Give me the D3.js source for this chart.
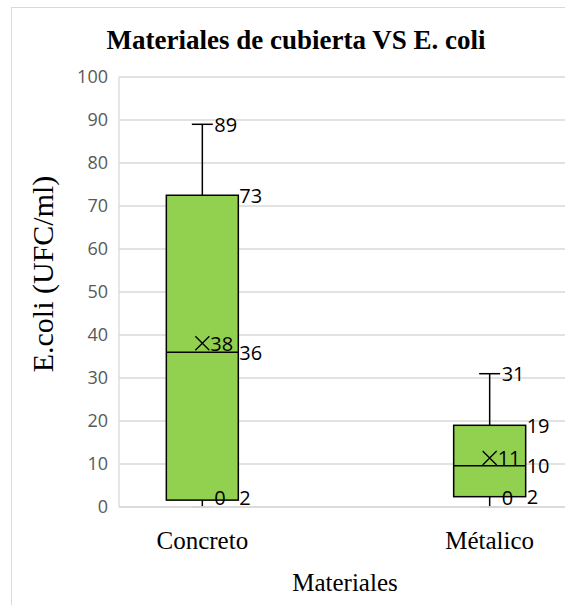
<!DOCTYPE html>
<html>
<head>
<meta charset="utf-8">
<script src="https://cdn.jsdelivr.net/npm/d3@7"></script>
<style>
  body { margin: 0; background: #fff; }
  text { font-family: "Open Sans", sans-serif; }
  .serif { font-family: "Liberation Serif", "Times New Roman", serif; }
</style>
</head>
<body>
<script>
// datos
var materiales = ["Concreto", "Métalico"];
var minimos = [0, 0];
var cuartil1 = [1.6, 2.4];
var medianas = [36, 9.6];
var cuartil3 = [72.5, 19];
var maximos = [89, 31];
var medias = [38.1, 11.4];
var ticksY = [0, 10, 20, 30, 40, 50, 60, 70, 80, 90, 100];

var width = 565;
var height = 605;
var margin = {top: 77, left: 119, right: -8, bottom: 98};

var svg = d3.select("body").append("svg")
	.attr("width", width)
	.attr("height", height);

// borde del area del grafico
svg.append("rect")
	.attr("x", 11.5).attr("y", 7.5)
	.attr("width", width).attr("height", height)
	.attr("fill", "none")
	.attr("stroke", "#d9d9d9");

var plotB = height - margin.bottom;
var plotR = width - margin.right;

var y = d3.scaleLinear().domain([0, 100]).range([plotB, margin.top]);
var x = d3.scalePoint().domain(materiales).range([margin.left, plotR]).padding(0.29);

// lineas de cuadricula
svg.append("g").selectAll("line")
	.data(ticksY)
	.enter().append("line")
	.attr("x1", margin.left).attr("x2", plotR)
	.attr("y1", d => y(d)).attr("y2", d => y(d))
	.attr("stroke", "#d9d9d9")
	.attr("stroke-width", 1.3);

// eje Y
var ejeY = svg.append("g")
	.attr("transform", "translate(" + margin.left + ",0)")
	.call(d3.axisLeft(y).tickValues(ticksY).tickSize(0).tickPadding(11));
ejeY.select(".domain").remove();
ejeY.selectAll("text")
	.style("font-family", "Open Sans")
	.style("font-size", "18px")
	.attr("fill", "#595959");

var anchoCaja = 72;
var anchoTope = 21;

var datos = materiales.map((m, i) => ({
	nombre: m, min: minimos[i], q1: cuartil1[i], med: medianas[i],
	q3: cuartil3[i], max: maximos[i], media: medias[i]
}));

var grupos = svg.append("g").selectAll("g")
	.data(datos)
	.enter().append("g")
	.attr("transform", d => "translate(" + x(d.nombre) + ",0)");

// bigotes
grupos.append("line")
	.attr("x1", 0).attr("x2", 0)
	.attr("y1", d => y(d.q3)).attr("y2", d => y(d.max))
	.attr("stroke", "#000").attr("stroke-width", 1.5);
grupos.append("line")
	.attr("x1", 0).attr("x2", 0)
	.attr("y1", d => y(d.q1)).attr("y2", d => y(d.min))
	.attr("stroke", "#000").attr("stroke-width", 1.5);
grupos.append("line")
	.attr("x1", -anchoTope / 2).attr("x2", anchoTope / 2)
	.attr("y1", d => y(d.max)).attr("y2", d => y(d.max))
	.attr("stroke", "#000").attr("stroke-width", 1.5);
grupos.append("line")
	.attr("x1", -anchoTope / 2).attr("x2", anchoTope / 2)
	.attr("y1", d => y(d.min)).attr("y2", d => y(d.min))
	.attr("stroke", "#bfbfbf").attr("stroke-width", 1.5);

// caja
grupos.append("rect")
	.attr("x", -anchoCaja / 2)
	.attr("y", d => y(d.q3))
	.attr("width", anchoCaja)
	.attr("height", d => y(d.q1) - y(d.q3))
	.attr("fill", "#92d050")
	.attr("stroke", "#000").attr("stroke-width", 1.5);
grupos.append("line")
	.attr("x1", -anchoCaja / 2).attr("x2", anchoCaja / 2)
	.attr("y1", d => y(d.med)).attr("y2", d => y(d.med))
	.attr("stroke", "#000").attr("stroke-width", 1.5);

// marca de media (X)
var t = 7;
grupos.append("path")
	.attr("d", d => "M" + (-t) + "," + (y(d.media) - t) + "L" + t + "," + (y(d.media) + t) +
		"M" + t + "," + (y(d.media) - t) + "L" + (-t) + "," + (y(d.media) + t))
	.attr("stroke", "#000").attr("stroke-width", 1.3).attr("fill", "none");

// etiquetas de datos, dentro del area de trazado
var mitadEtiqueta = 10;
function posY(v) { return Math.min(y(v), plotB - mitadEtiqueta); }
var etiquetas = [
	{campo: "max", dx: 12},
	{campo: "q3", dx: anchoCaja / 2 + 1},
	{campo: "med", dx: anchoCaja / 2 + 1},
	{campo: "q1", dx: anchoCaja / 2 + 1},
	{campo: "media", dx: 8},
	{campo: "min", dx: 12}
];
etiquetas.forEach(e => {
	grupos.append("text")
		.attr("x", e.dx)
		.attr("y", d => posY(d[e.campo]))
		.attr("dominant-baseline", "central")
		.style("font-size", "20px")
		.attr("fill", "#000")
		.text(d => Math.round(d[e.campo]));
});

// eje X
svg.append("line")
	.attr("x1", margin.left).attr("x2", plotR)
	.attr("y1", plotB).attr("y2", plotB)
	.attr("stroke", "#d9d9d9").attr("stroke-width", 1.3);
svg.append("line")
	.attr("x1", margin.left).attr("x2", margin.left)
	.attr("y1", margin.top).attr("y2", plotB)
	.attr("stroke", "#d9d9d9").attr("stroke-width", 1.3);

svg.append("g").selectAll("text")
	.data(materiales)
	.enter().append("text")
	.attr("class", "serif")
	.attr("x", d => x(d))
	.attr("y", 549)
	.attr("text-anchor", "middle")
	.style("font-size", "25px")
	.text(d => d);

// titulos
svg.append("text")
	.attr("class", "serif")
	.attr("x", 296).attr("y", 49)
	.attr("text-anchor", "middle")
	.style("font-size", "27px")
	.style("font-weight", "bold")
	.text("Materiales de cubierta VS E. coli");

svg.append("text")
	.attr("class", "serif")
	.attr("x", 345).attr("y", 591)
	.attr("text-anchor", "middle")
	.style("font-size", "25px")
	.text("Materiales");

svg.append("text")
	.attr("class", "serif")
	.attr("transform", "translate(53,274) rotate(-90)")
	.attr("text-anchor", "middle")
	.style("font-size", "30px")
	.text("E.coli (UFC/ml)");
</script>
</body>
</html>
